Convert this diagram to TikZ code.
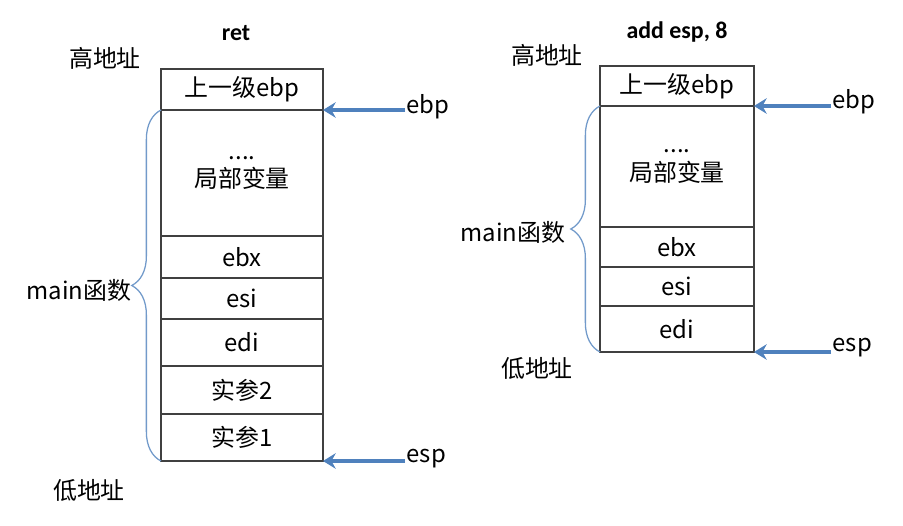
\documentclass[tikz,border=0pt]{standalone}
\usepackage{fontspec}
\setmainfont{Noto Sans CJK SC}
\newfontfamily\titlefont{Carlito}
\usetikzlibrary{positioning,arrows.meta,decorations.pathreplacing}
\definecolor{boxln}{RGB}{64,64,64}
\definecolor{ptrblue}{RGB}{79,129,189}
\tikzset{
  cell/.style={draw=boxln,line width=0.9pt,outer sep=0pt,inner sep=0pt,align=center,minimum height=#1*0.025cm},
  lcell/.style={cell=#1,minimum width=4.05cm},
  rcell/.style={cell=#1,minimum width=3.85cm},
  ptr/.style={draw=ptrblue,line width=2.3pt,-{Stealth[length=9pt,width=11pt,inset=3pt]}},
  brc/.style={draw=ptrblue!80,line width=0.9pt,decorate,decoration={brace,amplitude=0.73cm}},
  lbl/.style={inner sep=1pt},
  ttl/.style={font=\titlefont\bfseries\fontsize{17}{20}\selectfont}
}
\begin{document}
\begin{tikzpicture}[x=0.025cm,y=-0.025cm,every node/.style={font=\fontsize{17}{20}\selectfont}]
\useasboundingbox (0,0) rectangle (903,526);
% ret
\node[ttl] (tl) at (236,33) {ret};
\node (hiL) at (105,58) {高地址};
\node[lcell=41,anchor=north] (l1) at (242,69) {上一级ebp};
\node[lcell=126,below=0pt of l1] (l2) {....\\局部变量};
\node[lcell=42,below=0pt of l2] (l3) {ebx};
\node[lcell=41,below=0pt of l3] (l4) {esi};
\node[lcell=47,below=0pt of l4] (l5) {edi};
\node[lcell=48,below=0pt of l5] (l6) {实参2};
\node[lcell=47,below=0pt of l6] (l7) {实参1};
\node (loL) at (89,490) {低地址};
\node (mainL) at (79,290) {main函数};
\draw[brc] (l7.south west) -- (l1.south west);
\node[lbl,anchor=west] (ebpL) at (405,107) {ebp};
\node[lbl,anchor=west] (espL) at (405,459) {esp};
\draw[ptr] (l1.south east -| ebpL.west) -- (l1.south east);
\draw[ptr] (l7.south east -| espL.west) -- (l7.south east);
% add esp, 8
\node[ttl] (tr) at (677,32) {add esp, 8};
\node (hiR) at (547,55) {高地址};
\node[rcell=40,anchor=north] (r1) at (677,66) {上一级ebp};
\node[rcell=121,below=0pt of r1] (r2) {....\\局部变量};
\node[rcell=40,below=0pt of r2] (r3) {ebx};
\node[rcell=39,below=0pt of r3] (r4) {esi};
\node[rcell=46,below=0pt of r4] (r5) {edi};
\node (loR) at (537,368) {低地址};
\node (mainR) at (513,232) {main函数};
\draw[brc] (r5.south west) -- (r1.south west);
\node[lbl,anchor=west] (ebpR) at (831,102) {ebp};
\node[lbl,anchor=west] (espR) at (831,348) {esp};
\draw[ptr] (r1.south east -| ebpR.west) -- (r1.south east);
\draw[ptr] (r5.south east -| espR.west) -- (r5.south east);
\end{tikzpicture}
\end{document}
